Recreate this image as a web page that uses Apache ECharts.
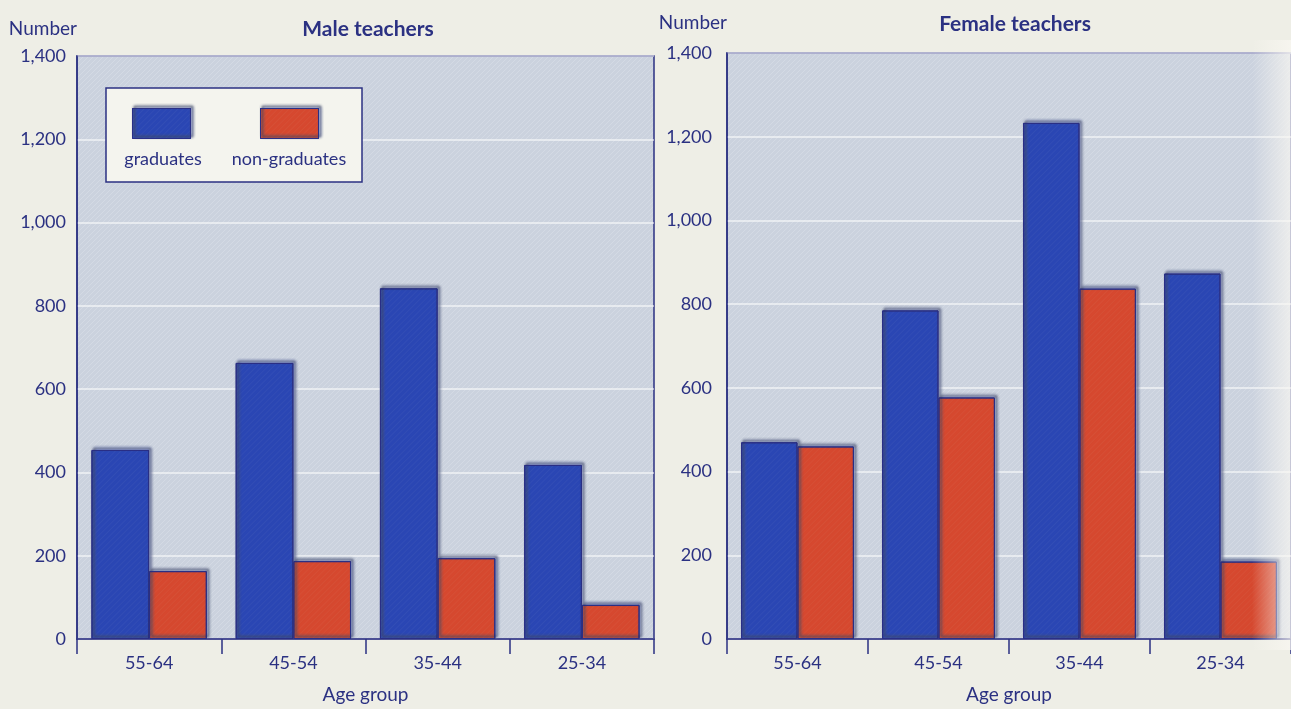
<!DOCTYPE html>
<html>
<head>
<meta charset="utf-8">
<title>Teachers by age group</title>
<script src="https://cdn.jsdelivr.net/npm/echarts@6/dist/echarts.min.js"></script>
<style>
  html, body { margin: 0; padding: 0; background: #eeeee6; }
  #chart { width: 1291px; height: 709px; }
</style>
</head>
<body>
<div id="chart"></div>
<script>
// Age groups, oldest first
const ageGroups = ['55-64', '45-54', '35-44', '25-34'];

// Number of male teachers
const maleGraduates = [454, 663, 842, 418];
const maleNonGraduates = [163, 187, 194, 82];

// Number of female teachers
const femaleGraduates = [470, 785, 1233, 873];
const femaleNonGraduates = [460, 577, 837, 185];

// Value axis ticks
const yMin = 0, yMax = 1400, yStep = 200;

const NAVY = '#2b3182';
const BLUE = '#2a47b5';
const RED = '#d8492f';
const FONT = 'Lato, "Open Sans", sans-serif';

// Light grey-blue hatched fill for the plotting areas
function hatch(base, line, size) {
  const c = document.createElement('canvas');
  c.width = size; c.height = size;
  const g = c.getContext('2d');
  g.fillStyle = base;
  g.fillRect(0, 0, size, size);
  g.strokeStyle = line;
  g.lineWidth = 1;
  g.beginPath();
  g.moveTo(0, size); g.lineTo(size, 0);
  g.moveTo(-size / 2, size / 2); g.lineTo(size / 2, -size / 2);
  g.moveTo(size / 2, size * 1.5); g.lineTo(size * 1.5, size / 2);
  g.stroke();
  return { image: c, repeat: 'repeat' };
}
const plotFill = hatch('#cbd2de', 'rgba(255,255,255,0.18)', 5);

// soft bluish fringe on the upper-right of each block
const SHADOW = {
  shadowColor: 'rgba(165,182,248,0.95)',
  shadowBlur: 3,
  shadowOffsetX: 2,
  shadowOffsetY: -2
};

const barStyle = (color) => Object.assign({
  color: color,
  borderColor: '#2a2f86',
  borderWidth: 1,
  decal: {
    symbol: 'rect', symbolSize: 1,
    dashArrayX: [1, 0], dashArrayY: [1, 3],
    rotation: -Math.PI / 4,
    color: 'rgba(255,255,255,0.04)'
  }
}, SHADOW);

const grids = [
  { left: 77, top: 56, width: 577, height: 587 },
  { left: 727, top: 53, width: 580, height: 588 }
];

function xAxis(gridIndex) {
  return {
    type: 'category',
    gridIndex: gridIndex,
    data: ageGroups,
    name: 'Age group',
    nameLocation: 'middle',
    nameGap: 46,
    nameTextStyle: { color: NAVY, fontSize: 19, fontFamily: FONT },
    axisLine: { show: true, lineStyle: { color: NAVY, width: 1.5 } },
    axisTick: { show: true, inside: false, length: 15, lineStyle: { color: NAVY, width: 1.5 } },
    axisLabel: { color: NAVY, fontSize: 18, fontFamily: FONT, margin: 15 },
    splitLine: { show: false }
  };
}

function yAxis(gridIndex, nameGap, labelMargin) {
  return {
    type: 'value',
    gridIndex: gridIndex,
    min: yMin, max: yMax, interval: yStep,
    name: 'Number',
    nameLocation: 'end',
    nameGap: nameGap,
    nameTextStyle: { color: NAVY, fontSize: 19, fontFamily: FONT, align: 'right' },
    axisLine: { show: true, lineStyle: { color: NAVY, width: 1.5 } },
    axisTick: { show: false },
    axisLabel: {
      color: NAVY, fontSize: 18, fontFamily: FONT, margin: labelMargin,
      formatter: (v) => v.toLocaleString('en-US')
    },
    splitLine: { show: true, lineStyle: { color: 'rgba(255,255,255,0.7)', width: 1.5 } }
  };
}

function barSeries(name, data, color, idx) {
  return {
    name: name,
    type: 'bar',
    xAxisIndex: idx, yAxisIndex: idx,
    data: data,
    barGap: '0%',
    barCategoryGap: '20%',
    itemStyle: barStyle(color),
    emphasis: { disabled: true }
  };
}

const legendIcon = (left, name) => ({
  data: [{ name: name, icon: 'rect' }],
  left: left, top: 108,
  z: 8,
  icon: 'rect',
  itemWidth: 58, itemHeight: 30,
  padding: 0,
  formatter: () => '',
  selectedMode: false,
  itemStyle: Object.assign({ borderColor: '#2a2f86', borderWidth: 1 }, SHADOW)
});

const chart = echarts.init(document.getElementById('chart'));
chart.setOption({
  backgroundColor: '#eeeee6',
  animation: false,
  textStyle: { fontFamily: FONT },
  title: [
    { text: 'Male teachers', left: 363, top: 14, textAlign: 'center',
      textStyle: { color: NAVY, fontSize: 21, fontWeight: 'bold', fontFamily: FONT } },
    { text: 'Female teachers', left: 1010, top: 9, textAlign: 'center',
      textStyle: { color: NAVY, fontSize: 21, fontWeight: 'bold', fontFamily: FONT } }
  ],
  grid: grids.map(g => Object.assign({
    show: true, backgroundColor: plotFill,
    borderColor: NAVY, borderWidth: 1.5, containLabel: false
  }, g)),
  xAxis: [xAxis(0), xAxis(1)],
  yAxis: [yAxis(0, 18, 11), yAxis(1, 21, 15)],
  legend: [legendIcon(132, 'graduates'), legendIcon(260, 'non-graduates')],
  graphic: [
    {
      type: 'rect', z: 3,
      shape: { x: 106, y: 88, width: 256, height: 94 },
      style: { fill: '#f4f4ee', stroke: NAVY, lineWidth: 1.5 }
    },
    {
      type: 'text', z: 8, x: 163, y: 159,
      style: { text: 'graduates', fill: NAVY, fontSize: 18, fontFamily: FONT,
               align: 'center', verticalAlign: 'middle' }
    },
    {
      type: 'text', z: 8, x: 289, y: 159,
      style: { text: 'non-graduates', fill: NAVY, fontSize: 18, fontFamily: FONT,
               align: 'center', verticalAlign: 'middle' }
    },
    {
      // glare along the right edge of the page
      type: 'rect', z: 50, silent: true,
      shape: { x: 1252, y: 40, width: 39, height: 610 },
      style: {
        fill: new echarts.graphic.LinearGradient(0, 0, 1, 0, [
          { offset: 0, color: 'rgba(250,248,242,0)' },
          { offset: 1, color: 'rgba(250,248,242,0.7)' }
        ])
      }
    }
  ],
  series: [
    barSeries('graduates', maleGraduates, BLUE, 0),
    barSeries('non-graduates', maleNonGraduates, RED, 0),
    barSeries('graduates', femaleGraduates, BLUE, 1),
    barSeries('non-graduates', femaleNonGraduates, RED, 1)
  ]
});
</script>
</body>
</html>
